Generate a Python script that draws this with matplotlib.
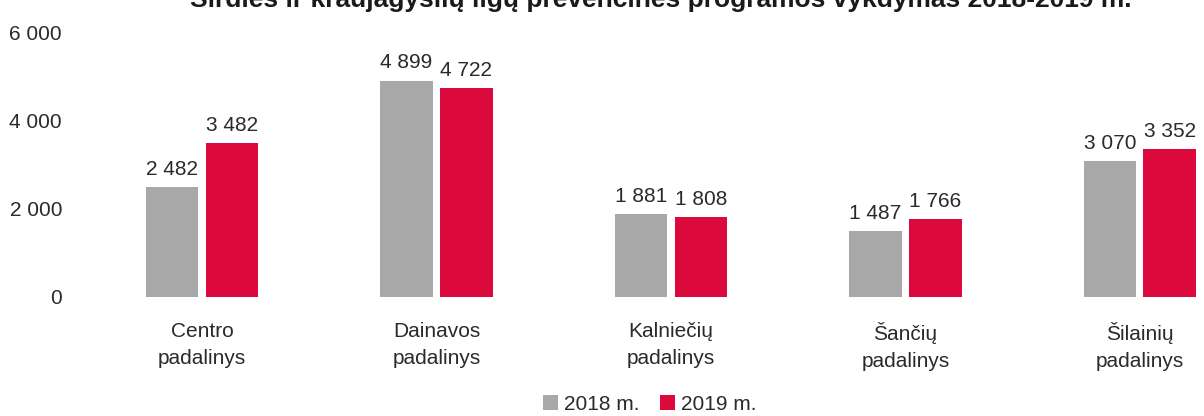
import matplotlib.pyplot as plt
import numpy as np

plt.rcParams['font.family'] = ['Liberation Sans', 'DejaVu Sans']

categories = ['Centro\npadalinys', 'Dainavos\npadalinys', 'Kalniečių\npadalinys',
              'Šančių\npadalinys', 'Šilainių\npadalinys']
vals_2018 = [2482, 4899, 1881, 1487, 3070]
vals_2019 = [3482, 4722, 1808, 1766, 3352]
series_labels = ['2018 m.', '2019 m.']
yticks = [0, 2000, 4000, 6000]
title = 'Širdies ir kraujagyslių ligų prevencinės programos vykdymas 2018-2019 m.'

C_GRAY = '#a8a8a8'
C_RED = '#dc0a3c'
C_TEXT = '#2a2a2a'
FS = 15

def fmt(v):
    return f'{v:,}'.replace(',', ' ')

fig = plt.figure(figsize=(12.04, 4.16), dpi=100)
ax = fig.add_axes([62 / 1204, (416 - 297) / 416, (1204 - 62) / 1204, 265 / 416])

x = np.arange(len(categories))
w = 0.225
gap = 0.015
b1 = ax.bar(x - w / 2 - gap, vals_2018, w, color=C_GRAY, label=series_labels[0])
b2 = ax.bar(x + w / 2 + gap, vals_2019, w, color=C_RED, label=series_labels[1])

for bars in (b1, b2):
    for r in bars:
        h = r.get_height()
        ax.annotate(fmt(h), xy=(r.get_x() + r.get_width() / 2, h),
                    xytext=(0, 6), textcoords='offset points',
                    ha='center', va='bottom', fontsize=FS, color=C_TEXT)

ax.set_xlim(-0.597, 4.273)
ax.set_ylim(0, 6000)
ax.set_yticks(yticks)
ax.set_yticklabels([fmt(t) for t in yticks], fontsize=FS, color=C_TEXT)
ax.set_xticks(x)
ax.set_xticklabels(categories, fontsize=FS, color=C_TEXT, linespacing=1.55)
ax.tick_params(axis='both', length=0)
ax.tick_params(axis='x', pad=18)
ax.tick_params(axis='y', pad=0)
for s in ax.spines.values():
    s.set_visible(False)

fig.legend(handles=[b1, b2], labels=series_labels, loc='center',
           bbox_to_anchor=(650 / 1204, 1 - 404 / 416), ncol=2, frameon=False,
           fontsize=FS, handlelength=0.7, handleheight=0.7, handletextpad=0.3,
           columnspacing=1.0, labelcolor=C_TEXT)

# title is cropped at the top edge, as in the scanned original
fig.text(661 / 1204, 1 - 7 / 416, title, ha='center', va='baseline',
         fontsize=19, fontweight='bold', color='#1a1a1a')

fig.savefig('out.png', dpi=100, facecolor='white')
